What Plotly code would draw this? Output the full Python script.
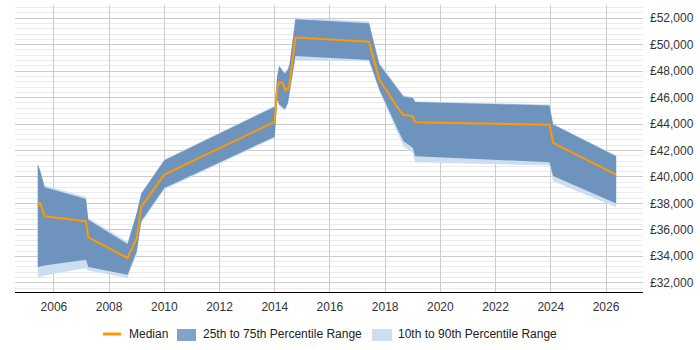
import plotly.graph_objects as go

dates = ["2005-06-01", "2005-07-01", "2005-09-01", "2007-03-01", "2007-04-01",
         "2008-09-01", "2009-01-01", "2009-03-01", "2010-01-01", "2014-01-01",
         "2014-02-01", "2014-03-01", "2014-04-15", "2014-05-15", "2014-06-25",
         "2014-07-15", "2014-10-01", "2017-06-01", "2017-10-15", "2018-06-15",
         "2018-09-01", "2019-01-01", "2019-02-01", "2023-12-15", "2024-02-01",
         "2026-05-15"]

median = [37830, 38080, 37020, 36640, 35430, 33870, 35380, 37730, 40180, 44170,
          46750, 47170, 47130, 46570, 46670, 47000, 50540, 50230, 47380, 45230,
          44680, 44600, 44140, 43950, 42580, 40180]

p75 = [40960, 40500, 39220, 38340, 36770, 34930, 37280, 38720, 41270, 45310,
       47600, 48390, 48000, 47830, 48140, 48520, 51920, 51620, 48520, 46620,
       46070, 45990, 45660, 45410, 43970, 41570]

p25 = [33190, 33220, 33300, 33740, 33190, 32600, 34370, 36640, 39170, 43040,
       45860, 45480, 45230, 45110, 45610, 46300, 49140, 48850, 46620, 43590,
       42700, 42200, 41570, 41110, 40080, 38000]

p90 = [41000, 40550, 39350, 38500, 36900, 35100, 37350, 38780, 41330, 45380,
       47650, 48450, 48150, 47900, 48200, 48560, 52050, 51750, 48650, 46700,
       46150, 46050, 45720, 45470, 44020, 41620]

p10 = [32430, 32450, 32550, 33110, 32930, 32350, 34200, 36500, 39050, 42950,
       45750, 45350, 45100, 45000, 45500, 46200, 48800, 48750, 46500, 43300,
       42300, 41830, 41110, 40860, 39670, 37700]

legend_labels = ["Median", "25th to 75th Percentile Range", "10th to 90th Percentile Range"]

LIGHT = "rgb(204,222,240)"
DARK = "rgb(110,148,189)"
DARK_SWATCH = "rgb(128,163,199)"
ORANGE = "rgb(255,153,0)"

fig = go.Figure()
fig.add_trace(go.Scatter(x=dates, y=p10, mode="lines", line=dict(width=0, color=LIGHT),
                         showlegend=False, hoverinfo="skip"))
fig.add_trace(go.Scatter(x=dates, y=p90, mode="lines", line=dict(width=0, color=LIGHT),
                         fill="tonexty", fillcolor=LIGHT, showlegend=False,
                         name=legend_labels[2]))
fig.add_trace(go.Scatter(x=dates, y=p25, mode="lines", line=dict(width=0, color=DARK),
                         showlegend=False, hoverinfo="skip"))
fig.add_trace(go.Scatter(x=dates, y=p75, mode="lines", line=dict(width=0, color=DARK),
                         fill="tonexty", fillcolor=DARK, showlegend=False,
                         name=legend_labels[1]))
fig.add_trace(go.Scatter(x=dates, y=median, mode="lines", line=dict(width=2, color=ORANGE),
                         showlegend=False, name=legend_labels[0]))

# custom legend (pixel -> paper coordinates of the plot area)
L, R, T, B = 15, 643, 5, 292
def px(x):
    return (x - L) / (R - L)
def py(y):
    return (B - y) / (B - T)

shapes = [
    dict(type="line", xref="paper", yref="paper", x0=px(103), x1=px(121),
         y0=py(334), y1=py(334), line=dict(color=ORANGE, width=3)),
    dict(type="rect", xref="paper", yref="paper", x0=px(177), x1=px(196),
         y0=py(341), y1=py(329), line=dict(width=0), fillcolor=DARK_SWATCH),
    dict(type="rect", xref="paper", yref="paper", x0=px(372), x1=px(392),
         y0=py(341), y1=py(329), line=dict(width=0), fillcolor=LIGHT),
]
annotations = [
    dict(xref="paper", yref="paper", x=px(x0), y=py(334), text=t, showarrow=False,
         xanchor="left", yanchor="middle", font=dict(size=12, color="#222"))
    for x0, t in zip([127, 201, 396], legend_labels)
]

fig.update_layout(
    width=700, height=350,
    margin=dict(l=L, r=700 - R, t=T, b=350 - B),
    paper_bgcolor="white", plot_bgcolor="white",
    font=dict(family="Liberation Sans, Arial, sans-serif", size=12, color="#333"),
    showlegend=False,
    shapes=shapes, annotations=annotations,
)
fig.update_xaxes(
    type="date", range=["2004-08-04", "2027-05-05"],
    tick0="2006-01-01", dtick="M24", tickformat="%Y",
    showgrid=True, gridcolor="#cccccc", gridwidth=1,
    showline=True, linecolor="#000", linewidth=1,
    ticks="", tickfont=dict(size=12, color="#333"), zeroline=False,
    ticklabelstandoff=4,
)
fig.update_yaxes(
    range=[31300, 53000], side="right",
    tick0=32000, dtick=2000, tickprefix="£", tickformat=",d",
    showgrid=True, gridcolor="#cccccc", gridwidth=1,
    minor=dict(dtick=400, tick0=32000, showgrid=True, gridcolor="#ebebeb", gridwidth=1),
    showline=False, zeroline=False, ticks="",
    tickfont=dict(size=12, color="#333"),
    ticklabelstandoff=6,
)

fig.write_html("out.html")
